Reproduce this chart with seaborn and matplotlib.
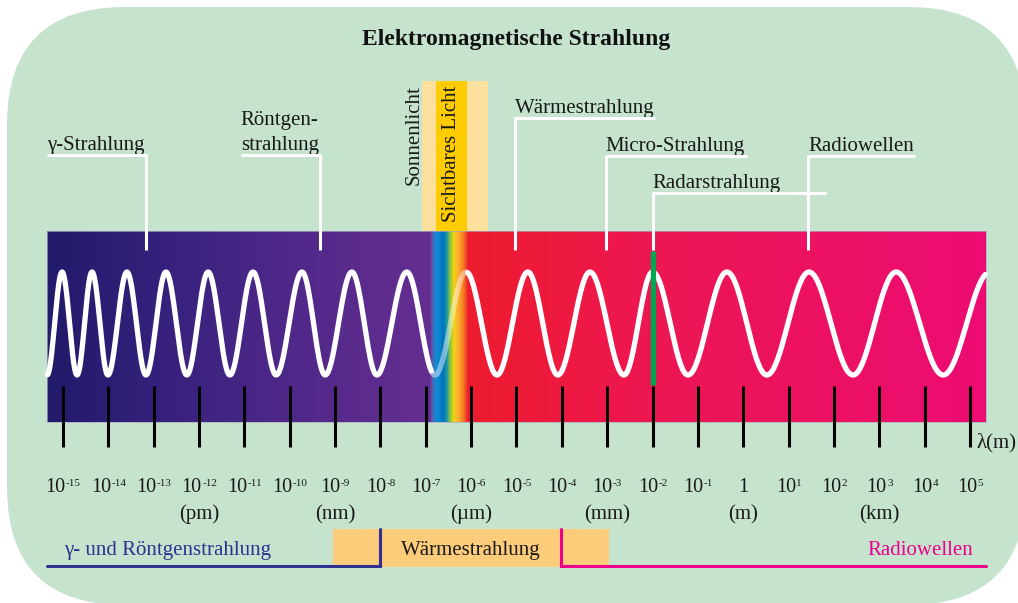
import numpy as np
import matplotlib
matplotlib.use("Agg")
import matplotlib.pyplot as plt
import seaborn as sns
from matplotlib.patches import FancyBboxPatch, Rectangle
from matplotlib.colors import to_rgb

# ---------------- data ----------------
exponents = list(range(-15, 6))                       # wavelength 10^e m
unit_labels = ["(pm)", "(nm)", "(µm)", "(mm)", "(m)", "(km)"]
unit_exponents = [-12, -9, -6, -3, 0, 3]

region_names = ["γ-Strahlung", "Röntgen-", "Wärmestrahlung", "Micro-Strahlung",
                "Radarstrahlung", "Radiowellen"]
region_second_line = ["", "strahlung", "", "", "", ""]
region_pointer = [-13.17, -9.33, -5.03, -3.03, -2.0, 1.43]      # where leader enters band
region_line_left = [-15.35, -11.08, -5.03, -3.03, -2.0, 1.43]
region_line_right = [-13.17, -9.33, -1.95, 0.08, 1.83, 3.79]
region_line_y = [155, 155, 118, 156, 193, 156]

# positions (in 10^e) of the alternating troughs / peaks of the drawn wave
wave_extrema = [-15.35, -15.02, -14.69, -14.36, -14.01, -13.59, -13.17, -12.73,
                -12.27, -11.80, -11.32, -10.81, -10.30, -9.73, -9.22, -8.63,
                -8.08, -7.42, -6.80, -6.11, -5.43, -4.75, -4.09, -3.38, -2.63,
                -2.00, -1.22, -0.36, 0.52, 1.45, 2.42, 3.37, 4.41, 5.44]

band_range = (-15.35, 5.35)
sun_range = (-7.08, -5.63)
visible_range = (-6.78, -6.09)
spectrum_range = (-6.885, -6.07)
radar_exponent = -2.0
legend_box = (-9.05, -2.96)
gamma_bracket = (-15.35, -8.0)
radio_bracket = (-4.02, 5.35)

# ---------------- style ----------------
sns.set_theme(style="white")
plt.rcParams["font.family"] = ["Liberation Serif", "DejaVu Serif"]

W, H = 1018, 603
fig = plt.figure(figsize=(W / 100, H / 100), dpi=100)
fig.patch.set_facecolor("white")

PX0, PXD = 63.0, 45.35          # pixel of 10^-15, pixels per decade
def px2e(px):
    return -15 + (px - PX0) / PXD

# background rounded panel
bg = fig.add_axes([0, 0, 1, 1])
bg.set_xlim(0, W); bg.set_ylim(H, 0); bg.axis("off")
bg.add_patch(FancyBboxPatch((7, 7), 1026 - 7, 605 - 7,
                            boxstyle="round,pad=0,rounding_size=118",
                            fc="#c5e3cd", ec="none"))

ax = fig.add_axes([0, 0, 1, 1])
ax.patch.set_alpha(0)

# sunlight / visible boxes above the band
ax.add_patch(Rectangle((sun_range[0], 81), sun_range[1] - sun_range[0], 231 - 81,
                       fc="#fddf9e", ec="none", zorder=1))
ax.add_patch(Rectangle((visible_range[0], 81), visible_range[1] - visible_range[0], 231 - 81,
                       fc="#ffcc00", ec="none", zorder=1))
ax.text(px2e(414), 85, "Sonnenlicht", rotation=90, ha="center", va="top",
        fontsize=15, color="#1a1a1a", zorder=2)
ax.text(px2e(452), 85, "Sichtbares Licht", rotation=90, ha="center", va="top",
        fontsize=15, color="#1a1a1a", zorder=2)

# gradient band
stops = [(47, "#221a6b"), (150, "#33207a"), (260, "#4a2787"), (360, "#5a2b8d"),
         (430, "#642e91"), (431.5, "#6a4da2"), (434, "#2a7cc8"), (438, "#0a8dd4"),
         (443, "#0072bc"), (447, "#1b9aa8"), (450, "#8cc63f"), (454, "#f4d40f"),
         (458, "#fbb034"), (463, "#f5821f"), (466.5, "#ef3e2a"), (468, "#ee1c2e"),
         (650, "#ed1752"), (986, "#ec0c73")]
sp = np.array([s[0] for s in stops])
sc = np.array([to_rgb(s[1]) for s in stops])
ncol = 940
ecols = np.linspace(band_range[0], band_range[1], ncol)
pcols = PX0 + (ecols + 15) * PXD
img = np.stack([np.interp(pcols, sp, sc[:, k]) for k in range(3)], axis=-1)[None, :, :]
ax.imshow(img, extent=(band_range[0], band_range[1], 422, 231), aspect="auto",
          interpolation="bilinear", zorder=2)
ax.add_patch(Rectangle((band_range[0], 231), band_range[1] - band_range[0], 422 - 231,
                       fc="none", ec="#a9aabd", lw=0.5, zorder=2.1))

# wave through the read extrema
ytr, ypk = 375, 272
xs, ys = [], []
for i in range(len(wave_extrema) - 1):
    x0, x1 = wave_extrema[i], wave_extrema[i + 1]
    y0 = ytr if i % 2 == 0 else ypk
    y1 = ypk if i % 2 == 0 else ytr
    t = np.linspace(0, 1, 40, endpoint=False)
    xs.append(x0 + (x1 - x0) * t)
    ys.append(y0 + (y1 - y0) * (1 - np.cos(np.pi * t)) / 2)
xs = np.concatenate(xs); ys = np.concatenate(ys)
keep = xs <= band_range[1]
xs, ys = xs[keep], ys[keep]
m_left = xs <= spectrum_range[0] + 0.02
m_mid = (xs >= spectrum_range[0]) & (xs <= spectrum_range[1])
m_right = xs >= spectrum_range[1] - 0.02
for m, a in [(m_left, 1.0), (m_mid, 0.45), (m_right, 1.0)]:
    sns.lineplot(x=xs[m], y=ys[m], ax=ax, color="white", lw=3.8, alpha=a,
                 sort=False, estimator=None, zorder=3, legend=False)

# radar marker
ax.vlines(radar_exponent, 251, 385, color="#00a651", lw=3.8, zorder=5)

# tick marks and labels
ax.vlines(exponents, 386, 447, color="black", lw=2.2, zorder=4)
base_fs, sup_fs = 14.5, 8
wchar = {"-": 0.333}
for e in exponents:
    if e == 0:
        ax.text(e, 492, "1", ha="center", va="baseline", fontsize=base_fs, color="#1a1a1a")
        continue
    s = str(e)
    wb = 1.0 * base_fs
    ws = sum(wchar.get(c, 0.5) for c in s) * sup_fs
    off = (wb - ws) / 2
    ax.annotate("10", (e, 492), xytext=(off, 0), textcoords="offset points",
                ha="right", va="baseline", fontsize=base_fs, color="#1a1a1a")
    ax.annotate(s, (e, 492), xytext=(off + 0.3, 4.6), textcoords="offset points",
                ha="left", va="baseline", fontsize=sup_fs, color="#1a1a1a")
for lab, e in zip(unit_labels, unit_exponents):
    ax.text(e, 519, lab, ha="center", va="baseline", fontsize=15, color="#1a1a1a")
ax.text(px2e(977), 447, "λ(m)", ha="left", va="baseline", fontsize=15, color="#1a1a1a")

# region labels with white leader lines
for name, second, p, l, r, ly in zip(region_names, region_second_line, region_pointer,
                                     region_line_left, region_line_right, region_line_y):
    ax.plot([l, r], [ly, ly], color="white", lw=2.2, solid_capstyle="butt", zorder=4)
    ax.plot([p, p], [ly - 1, 250], color="white", lw=2.2, solid_capstyle="butt", zorder=4)
    if second:
        ax.text(l, ly - 30, name, ha="left", va="baseline", fontsize=15, color="#1a1a1a")
        ax.text(l, ly - 5, second, ha="left", va="baseline", fontsize=15, color="#1a1a1a")
    else:
        ax.text(l, ly - 5, name, ha="left", va="baseline", fontsize=15, color="#1a1a1a")

# title
ax.text(-5.0, 45, "Elektromagnetische Strahlung", ha="center", va="baseline",
        fontsize=17, fontweight="bold", color="#111111")

# bottom legend
ax.add_patch(Rectangle((legend_box[0], 529), legend_box[1] - legend_box[0], 567 - 529,
                       fc="#fdcc7b", ec="none", zorder=1))
ax.plot([gamma_bracket[0], gamma_bracket[1], gamma_bracket[1]], [566, 566, 529],
        color="#2e3192", lw=2.2, solid_joinstyle="miter", zorder=2)
ax.plot([radio_bracket[0], radio_bracket[0], radio_bracket[1]], [529, 566, 566],
        color="#ec008c", lw=2.2, solid_joinstyle="miter", zorder=2)
ax.text(px2e(64), 555, "γ- und Röntgenstrahlung", ha="left", va="baseline",
        fontsize=15, color="#2e3192")
ax.text(-6.0, 555, "Wärmestrahlung", ha="center", va="baseline", fontsize=15, color="#1a1a1a")
ax.text(px2e(973), 555, "Radiowellen", ha="right", va="baseline", fontsize=15, color="#ec008c")

ax.set_xlim(px2e(0), px2e(W))
ax.set_ylim(H, 0)
ax.axis("off")

fig.savefig("out.png", dpi=100, facecolor="white")
